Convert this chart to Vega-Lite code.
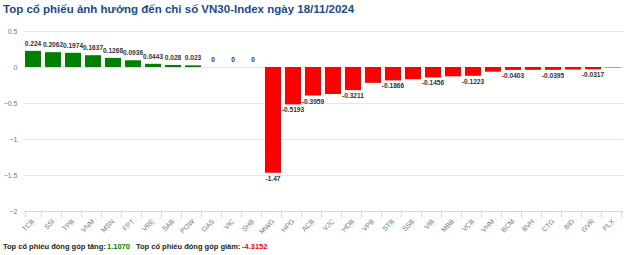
{
  "$schema": "https://vega.github.io/schema/vega-lite/v6.json",
  "padding": {"left": 3, "top": 4, "right": 0, "bottom": 0},
  "background": "white",
  "config": {"view": {"stroke": null}, "font": "Liberation Sans"},
  "spacing": 8,
  "vconcat": [
    {
      "width": 600,
      "height": 180,
      "title": {"text": "Top cổ phiếu ảnh hưởng đến chỉ số VN30-Index ngày 18/11/2024", "anchor": "start", "frame": "bounds", "fontSize": 11.5, "fontWeight": "bold", "color": "#1b4a8c", "font": "Liberation Sans", "offset": 11.5},
      "data": {"values": [
        {"code": "TCB", "v": 0.224, "label": "0.224"},
        {"code": "SSI", "v": 0.2062, "label": "0.2062"},
        {"code": "TPB", "v": 0.1974, "label": "0.1974"},
        {"code": "VNM", "v": 0.1637, "label": "0.1637"},
        {"code": "MSN", "v": 0.1268, "label": "0.1268"},
        {"code": "FPT", "v": 0.0936, "label": "0.0936"},
        {"code": "VRE", "v": 0.0443, "label": "0.0443"},
        {"code": "SAB", "v": 0.028, "label": "0.028"},
        {"code": "POW", "v": 0.023, "label": "0.023"},
        {"code": "GAS", "v": 0, "label": "0"},
        {"code": "VIC", "v": 0, "label": "0"},
        {"code": "SHB", "v": 0, "label": "0"},
        {"code": "MWG", "v": -1.47, "label": "-1.47"},
        {"code": "HPG", "v": -0.5193, "label": "-0.5193"},
        {"code": "ACB", "v": -0.3959, "label": "-0.3959"},
        {"code": "VJC", "v": -0.375, "label": ""},
        {"code": "HDB", "v": -0.3211, "label": "-0.3211"},
        {"code": "VPB", "v": -0.22, "label": ""},
        {"code": "STB", "v": -0.1866, "label": "-0.1866"},
        {"code": "SSB", "v": -0.17, "label": ""},
        {"code": "VIB", "v": -0.1456, "label": "-0.1456"},
        {"code": "MBB", "v": -0.13, "label": ""},
        {"code": "VCB", "v": -0.1223, "label": "-0.1223"},
        {"code": "VHM", "v": -0.065, "label": ""},
        {"code": "BCM", "v": -0.0403, "label": "-0.0403"},
        {"code": "BVH", "v": -0.04, "label": ""},
        {"code": "CTG", "v": -0.0395, "label": "-0.0395"},
        {"code": "BID", "v": -0.035, "label": ""},
        {"code": "GVR", "v": -0.0317, "label": "-0.0317"},
        {"code": "PLX", "v": -0.006, "label": ""}
      ]},
      "encoding": {
        "x": {"field": "code", "type": "nominal", "sort": null,
          "scale": {"paddingInner": 0.2, "paddingOuter": 0.1},
          "axis": {"title": null, "labelAngle": -45, "labelAlign": "right", "labelBaseline": "middle", "labelFontSize": 7, "labelColor": "#777777", "tickColor": "#ccd6eb", "domainColor": "#ccd6eb", "tickSize": 6, "tickBand": "extent", "labelPadding": 3}
        },
        "y": {"field": "v", "type": "quantitative", "scale": {"domain": [-2, 0.5], "nice": false},
          "axis": {"title": null, "values": [-2, -1.5, -1, -0.5, 0, 0.5], "format": "~g", "labelOverlap": false, "domain": false, "ticks": false, "labelFontSize": 7, "labelColor": "#777777", "gridColor": "#e6e6e6", "minExtent": 20, "maxExtent": 20, "labelPadding": 6}
        }
      },
      "layer": [
        {
          "mark": {"type": "bar"},
          "encoding": {
            "color": {"condition": {"test": "datum.v >= 0", "value": "#008000"}, "value": "#ff0000"}
          }
        },
        {
          "transform": [{"filter": "datum.v >= 0"}],
          "mark": {"type": "text", "baseline": "bottom", "dy": -4, "fontSize": 6.6, "fontWeight": "bold", "color": "#333333"},
          "encoding": {"text": {"field": "label"}}
        },
        {
          "transform": [{"filter": "datum.v < 0"}],
          "mark": {"type": "text", "baseline": "top", "dy": 3, "fontSize": 6.6, "fontWeight": "bold", "color": "#333333"},
          "encoding": {"text": {"field": "label"}}
        }
      ]
    },
    {
      "spacing": 1,
      "hconcat": [
        {"width": 1, "height": 1, "data": {"values": [{}]}, "mark": "text", "encoding": {},
         "title": {"text": "Top cổ phiếu đóng góp tăng:", "anchor": "start", "fontSize": 7.5, "fontWeight": "bold", "color": "#222222", "offset": 0, "dx": -20}},
        {"width": 1, "height": 1, "data": {"values": [{}]}, "mark": "text", "encoding": {},
         "title": {"text": "1.1070", "anchor": "start", "fontSize": 7.5, "fontWeight": "bold", "color": "#008000", "offset": 0}},
        {"width": 1, "height": 1, "data": {"values": [{}]}, "mark": "text", "encoding": {},
         "title": {"text": "Top cổ phiếu đóng góp giảm:", "anchor": "start", "fontSize": 7.5, "fontWeight": "bold", "color": "#222222", "offset": 0, "dx": 5}},
        {"width": 1, "height": 1, "data": {"values": [{}]}, "mark": "text", "encoding": {},
         "title": {"text": "-4.3152", "anchor": "start", "fontSize": 7.5, "fontWeight": "bold", "color": "#ff0000", "offset": 0}}
      ]
    }
  ]
}
